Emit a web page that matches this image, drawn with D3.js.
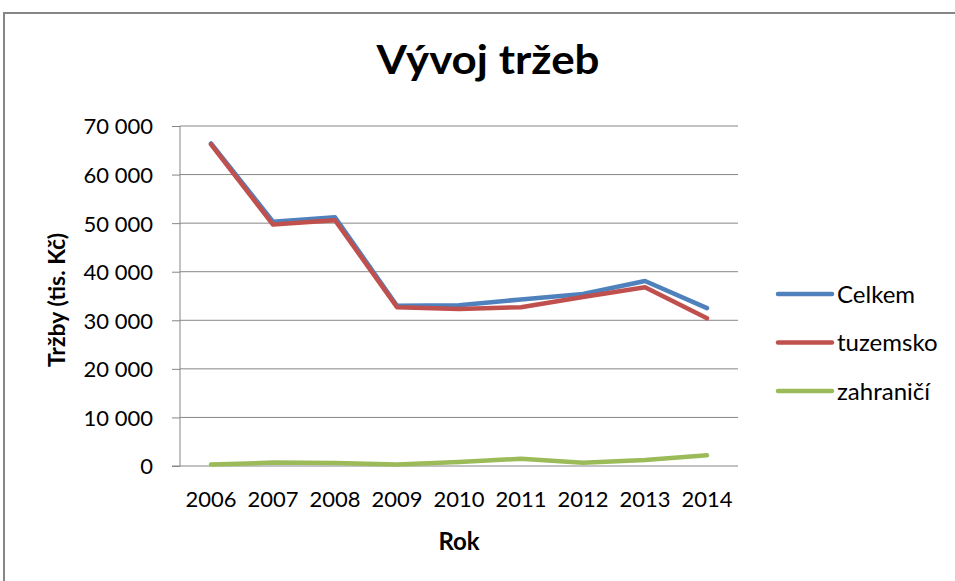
<!DOCTYPE html>
<html>
<head>
<meta charset="utf-8">
<script src="https://cdn.jsdelivr.net/npm/d3@7"></script>
<style>
    html, body { margin: 0; background: #fff; overflow: hidden; }
    svg { display: block; }
    .tick-text { font-family: Lato, "Open Sans", sans-serif; font-size: 22px; fill: #000; }
    .title-text { font-family: Lato, "Open Sans", sans-serif; font-weight: bold; fill: #000; }
    .legend-text { font-family: Lato, "Open Sans", sans-serif; font-size: 24px; fill: #000; }
</style>
</head>
<body>
<div id="chart"></div>
<script>
// data
var years = ['2006', '2007', '2008', '2009', '2010', '2011', '2012', '2013', '2014'];
var celkem = [66400, 50300, 51200, 33000, 33100, 34300, 35400, 38100, 32500];
var tuzemsko = [66200, 49700, 50600, 32700, 32300, 32700, 34800, 36800, 30400];
var zahranici = [300, 700, 600, 300, 800, 1500, 650, 1250, 2200];
var seriesNames = ['Celkem', 'tuzemsko', 'zahraničí'];
var yTicks = [0, 10000, 20000, 30000, 40000, 50000, 60000, 70000];

var colors = ['#4F81BD', '#C0504D', '#9BBB59'];

const width = 955;
const height = 581;

let margin = {
    top: 126,
    right: 217,
    bottom: 115,
    left: 180
};

var svg = d3.select("#chart")
    .append("svg")
    .attr("width", width)
    .attr("height", height);

// outer chart frame, runs off the right and bottom edge
svg.append("path")
    .attr("d", "M4," + (height + 10) + " L4,13 L" + (width + 10) + ",13")
    .attr("fill", "none")
    .attr("stroke", "#868686")
    .attr("stroke-width", 2);

var xScale = d3.scaleBand()
    .domain(years)
    .range([margin.left, width - margin.right]);

var yScale = d3.scaleLinear()
    .domain([0, 70000])
    .range([height - margin.bottom, margin.top]);

var czLocale = d3.formatLocale({ decimal: ",", thousands: "\u00a0", grouping: [3], currency: ["", " Kč"] });
var fmt = czLocale.format(",d");

// horizontal gridlines
svg.append("g")
    .selectAll("line")
    .data(yTicks.slice(1))
    .enter().append("line")
    .attr("x1", margin.left)
    .attr("x2", width - margin.right)
    .attr("y1", d => yScale(d))
    .attr("y2", d => yScale(d))
    .attr("stroke", "#868686")
    .attr("stroke-width", 1);

// y axis
var yAxis = d3.axisLeft(yScale)
    .tickValues(yTicks)
    .tickFormat(fmt)
    .tickSize(8)
    .tickPadding(19);

var yGroup = svg.append("g")
    .attr("transform", "translate(" + margin.left + ",0)")
    .call(yAxis);
yGroup.select(".domain").remove();
yGroup.selectAll(".tick line").attr("stroke", "#868686");
yGroup.selectAll(".tick text")
    .attr("class", "tick-text")
    .attr("dy", "0.36em");

svg.append("line")
    .attr("x1", margin.left)
    .attr("x2", margin.left)
    .attr("y1", yScale(70000))
    .attr("y2", yScale(0))
    .attr("stroke", "#868686");

// x axis (no tick marks)
var xAxis = d3.axisBottom(xScale)
    .tickSize(0)
    .tickPadding(25);

var xGroup = svg.append("g")
    .attr("transform", "translate(0," + yScale(0) + ")")
    .call(xAxis);
xGroup.select(".domain").remove();
xGroup.selectAll(".tick text").attr("class", "tick-text");

svg.append("line")
    .attr("x1", margin.left - 8)
    .attr("x2", width - margin.right)
    .attr("y1", yScale(0))
    .attr("y2", yScale(0))
    .attr("stroke", "#868686");

// lines
var line = d3.line()
    .x((d, i) => xScale(years[i]) + xScale.bandwidth() / 2)
    .y(d => yScale(d));

var allSeries = [celkem, tuzemsko, zahranici];

svg.append("g")
    .selectAll("path")
    .data(allSeries)
    .enter().append("path")
    .attr("d", line)
    .attr("fill", "none")
    .attr("stroke", (d, i) => colors[i])
    .attr("stroke-width", 4.5)
    .attr("stroke-linejoin", "round")
    .attr("stroke-linecap", "round");

// title
svg.append("text")
    .attr("class", "title-text")
    .attr("x", 488)
    .attr("y", 74)
    .attr("text-anchor", "middle")
    .style("font-size", "40px")
    .attr("textLength", 223)
    .attr("lengthAdjust", "spacingAndGlyphs")
    .text("Vývoj tržeb");

// axis titles
svg.append("text")
    .attr("class", "title-text")
    .style("font-size", "23px")
    .attr("text-anchor", "middle")
    .attr("transform", "translate(65,300) rotate(-90)")
    .text("Tržby (tis. Kč)");

svg.append("text")
    .attr("class", "title-text")
    .style("font-size", "24px")
    .attr("text-anchor", "middle")
    .attr("x", 459)
    .attr("y", 550)
    .text("Rok");

// legend
var legend = svg.append("g")
    .attr("transform", "translate(778,294)");

var items = legend.selectAll("g")
    .data(seriesNames)
    .enter().append("g")
    .attr("transform", (d, i) => "translate(0," + i * 48.5 + ")");

items.append("line")
    .attr("x1", 0)
    .attr("x2", 54)
    .attr("stroke", (d, i) => colors[i])
    .attr("stroke-width", 4.5)
    .attr("stroke-linecap", "round");

items.append("text")
    .attr("class", "legend-text")
    .attr("x", 59)
    .attr("dy", "0.36em")
    .text(d => d);
</script>
</body>
</html>
